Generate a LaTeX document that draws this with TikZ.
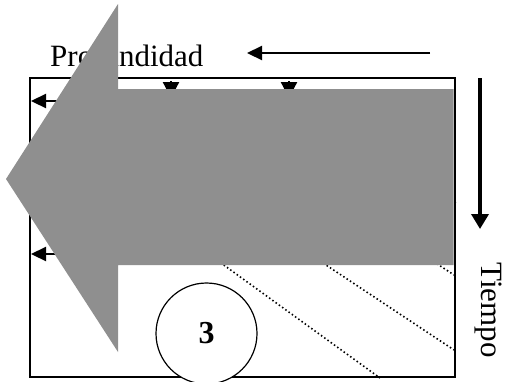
\documentclass[tikz,border=0pt]{standalone}
\usepackage{fontspec}
\setmainfont{Liberation Serif}
\usetikzlibrary{arrows.meta}
\definecolor{biggray}{HTML}{8F8F8F}
\tikzset{
  blackarrow/.style={line width=2.2pt,-{Triangle[length=15pt,width=14pt]}},
  headarrow/.style={line width=2.2pt,-{Triangle[length=16pt,width=16pt]}},
  thickarrow/.style={line width=3.5pt,-{Triangle[length=15pt,width=17pt]}},
  dotline/.style={line width=1.6pt,dash pattern=on 1.5pt off 2.5pt},
  bigtext/.style={font=\fontsize{31}{31}\selectfont,inner sep=0pt}
}
\begin{document}
\begin{tikzpicture}[x=1pt,y=-1pt]
\useasboundingbox (0,0) rectangle (505,381);
% frame
\draw[line width=1.5pt] (30,78) rectangle (455,377);
% dotted diagonal lines
\draw[dotline] (120,190) -- (380,378);
\draw[dotline] (180,168) -- (454,350);
\draw[dotline] (280,160) -- (454,275);
\draw[dotline] (300,95) -- (456,203);
% small arrows inside frame
\coordinate (l1s) at (90,101); \coordinate (l1e) at (31,101);
\coordinate (l2s) at (90,254); \coordinate (l2e) at (31,254);
\coordinate (d1s) at (171,81); \coordinate (d1e) at (171,98);
\coordinate (d2s) at (289,81); \coordinate (d2e) at (289,98);
\draw[blackarrow] (l1s) -- (l1e);
\draw[blackarrow] (l2s) -- (l2e);
\draw[headarrow] (d1s) -- (d1e);
\draw[headarrow] (d2s) -- (d2e);
% label under the gray arrow
\node[bigtext,anchor=base west] (prof) at (50,66) {Profundidad};
% big gray arrow
\fill[biggray] (6,179) -- (118,4) -- (118,89) -- (453.5,89) -- (453.5,265)
  -- (118,265) -- (118,352) -- cycle;
% circle with 3
\node[circle,draw,line width=1.2pt,fill=white,minimum size=101pt,inner sep=0pt,
  font=\fontsize{32}{32}\selectfont\bfseries] (c3) at (206.5,333.5) {3};
% right label
\node[bigtext,anchor=base west,rotate=-90] (tiempo) at (481.5,262) {Tiempo};
% outside arrows
\coordinate (ts) at (430,53); \coordinate (te) at (247,53);
\coordinate (vs) at (480,78); \coordinate (ve) at (480,229);
\draw[blackarrow] (ts) -- (te);
\draw[thickarrow] (vs) -- (ve);
\end{tikzpicture}
\end{document}
